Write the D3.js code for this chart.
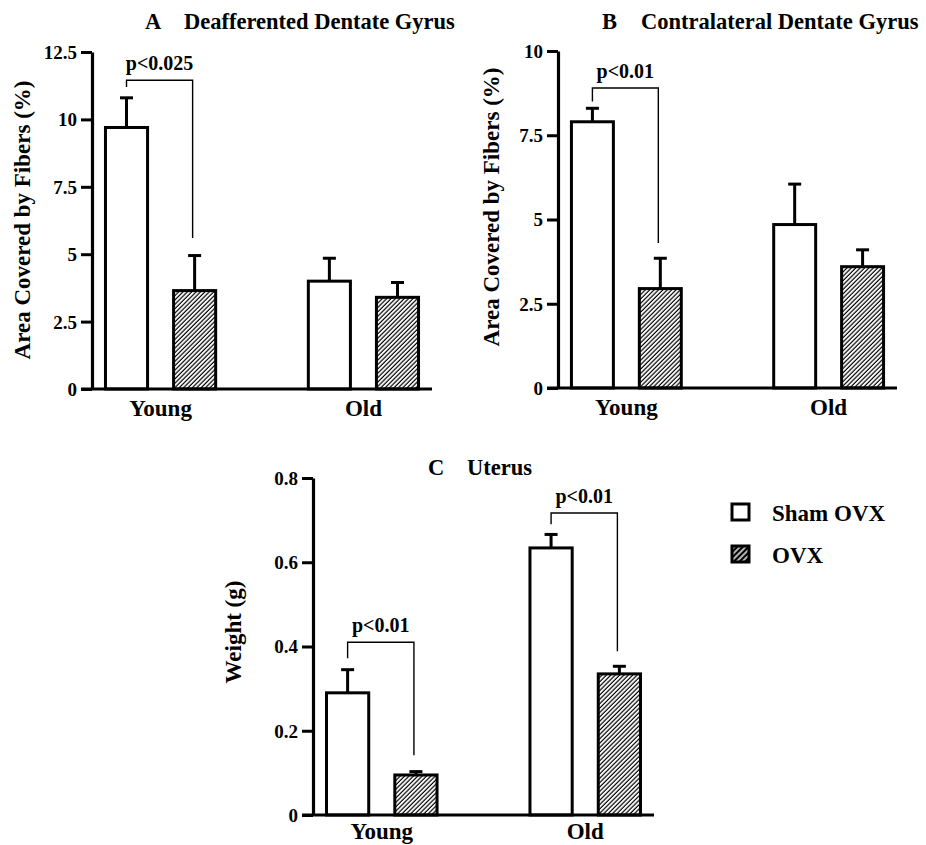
<!DOCTYPE html>
<html>
<head>
<meta charset="utf-8">
<script src="https://cdn.jsdelivr.net/npm/d3@7"></script>
<style>
  body { margin: 0; background: #fff; }
  text { font-family: "Liberation Serif", "Times New Roman", serif; font-weight: bold; fill: #000; }
</style>
</head>
<body>
<script>
// categories
var groups = ["Young", "Old"];
var series = ["Sham OVX", "OVX"];

// A: deafferented dentate gyrus (% area), [Young, Old] per series
var aSham = [9.7, 4.0];
var aOvx = [3.65, 3.4];
var aShamErr = [1.1, 0.85];
var aOvxErr = [1.3, 0.55];
var aTicks = [0, 2.5, 5, 7.5, 10, 12.5];

// B: contralateral dentate gyrus (% area)
var bSham = [7.9, 4.85];
var bOvx = [2.95, 3.6];
var bShamErr = [0.4, 1.2];
var bOvxErr = [0.9, 0.5];
var bTicks = [0, 2.5, 5, 7.5, 10];

// C: uterus weight (g)
var cSham = [0.29, 0.634];
var cOvx = [0.095, 0.335];
var cShamErr = [0.055, 0.032];
var cOvxErr = [0.008, 0.018];
var cTicks = [0, 0.2, 0.4, 0.6, 0.8];

// significance brackets: group, bracket top, left leg end, right leg end (data units)
var aBrackets = [{ group: "Young", top: 11.45, left: 11.2, right: 5.6, label: "p<0.025" }];
var bBrackets = [{ group: "Young", top: 8.9, left: 8.5, right: 4.3, label: "p<0.01" }];
var cBrackets = [
  { group: "Young", top: 0.41, left: 0.372, right: 0.142, label: "p<0.01" },
  { group: "Old", top: 0.717, left: 0.69, right: 0.389, label: "p<0.01" }
];

var w = 926;
var h = 845;

var svg = d3.select("body")
  .append("svg")
  .attr("width", w)
  .attr("height", h);

// hatch fill for OVX bars
var defs = svg.append("defs");
defs.append("pattern")
  .attr("id", "hatch")
  .attr("patternUnits", "userSpaceOnUse")
  .attr("width", 3.1)
  .attr("height", 3.1)
  .attr("patternTransform", "rotate(45)")
  .append("line")
  .attr("x1", 1).attr("y1", 0)
  .attr("x2", 1).attr("y2", 3.1)
  .attr("stroke", "#000")
  .attr("stroke-width", 1.2);
defs.append("pattern")
  .attr("id", "hatchDense")
  .attr("patternUnits", "userSpaceOnUse")
  .attr("width", 4)
  .attr("height", 4)
  .attr("patternTransform", "rotate(45)")
  .append("line")
  .attr("x1", 2).attr("y1", 0)
  .attr("x2", 2).attr("y2", 4)
  .attr("stroke", "#000")
  .attr("stroke-width", 2.6);

function drawPanel(p) {
  var g = svg.append("g");

  var y = d3.scaleLinear()
    .domain([0, d3.max(p.ticks)])
    .range([p.bottom, p.top]);

  var x = d3.scaleBand()
    .domain(groups)
    .range([p.left, p.right])
    .paddingInner(0.442)
    .paddingOuter(0.059);

  var xs = d3.scaleBand()
    .domain(series)
    .range([0, x.bandwidth()])
    .paddingInner(0.338);

  var rows = [];
  groups.forEach(function(grp, i) {
    rows.push({ group: grp, s: series[0], v: p.sham[i], e: p.shamErr[i] });
    rows.push({ group: grp, s: series[1], v: p.ovx[i], e: p.ovxErr[i] });
  });

  // error bars (upper only)
  rows.forEach(function(d) {
    var cx = x(d.group) + xs(d.s) + xs.bandwidth() / 2;
    g.append("line")
      .attr("x1", cx).attr("x2", cx)
      .attr("y1", y(d.v)).attr("y2", y(d.v + d.e))
      .attr("stroke", "#000").attr("stroke-width", 3);
    g.append("line")
      .attr("x1", cx - 6.5).attr("x2", cx + 6.5)
      .attr("y1", y(d.v + d.e)).attr("y2", y(d.v + d.e))
      .attr("stroke", "#000").attr("stroke-width", 3);
  });

  // bars
  g.selectAll("rect.bar")
    .data(rows)
    .enter()
    .append("rect")
    .attr("class", "bar")
    .attr("x", d => x(d.group) + xs(d.s) + 1.5)
    .attr("width", xs.bandwidth() - 3)
    .attr("y", d => y(d.v))
    .attr("height", d => y(0) - y(d.v))
    .attr("fill", d => d.s === "OVX" ? "url(#hatch)" : "#fff")
    .attr("stroke", "#000")
    .attr("stroke-width", 3);

  // brackets
  p.brackets.forEach(function(b) {
    var x1 = x(b.group) + xs(series[0]) + xs.bandwidth() / 2;
    var x2 = x(b.group) + xs(series[1]) + xs.bandwidth() / 2 - 2;
    g.append("path")
      .attr("d", "M" + x1 + "," + y(b.left) + "V" + y(b.top) + "H" + x2 + "V" + y(b.right))
      .attr("fill", "none")
      .attr("stroke", "#000")
      .attr("stroke-width", 1.4);
    g.append("text")
      .attr("x", (x1 + x2) / 2)
      .attr("y", y(b.top) - 10)
      .attr("text-anchor", "middle")
      .style("font-size", "20px")
      .text(b.label);
  });

  // y axis
  var yAxis = g.append("g")
    .attr("transform", "translate(" + p.left + ",0)")
    .call(d3.axisLeft(y)
      .tickValues(p.ticks)
      .tickSize(11)
      .tickPadding(4)
      .tickSizeOuter(0)
      .tickFormat(d => String(d)));
  yAxis.select(".domain").attr("stroke-width", 3.2);
  yAxis.selectAll(".tick line").attr("stroke-width", 3);
  yAxis.selectAll(".tick text")
    .style("font-size", "19px")
    .style("font-family", "'Liberation Serif', serif")
    .style("font-weight", "bold")
    .attr("dy", "0.34em");

  // x axis line
  g.append("line")
    .attr("x1", p.left - 11).attr("x2", p.right)
    .attr("y1", y(0)).attr("y2", y(0))
    .attr("stroke", "#000").attr("stroke-width", 3.2);

  // category labels
  g.selectAll("text.cat")
    .data(groups)
    .enter()
    .append("text")
    .attr("class", "cat")
    .attr("x", d => x(d) + x.bandwidth() / 2)
    .attr("y", y(0) + p.catGap)
    .attr("text-anchor", "middle")
    .style("font-size", "23px")
    .text(d => d);

  // y label
  g.append("text")
    .attr("transform", "translate(" + p.labelX + "," + p.labelY + ") rotate(-90)")
    .attr("text-anchor", "middle")
    .style("font-size", "23px")
    .text(p.yLabel);

  // title
  var t = g.append("text")
    .attr("y", p.titleY)
    .style("font-size", "22.5px");
  t.append("tspan").attr("x", p.titleX).text(p.letter);
  t.append("tspan").attr("x", p.titleX + 39).text(p.title);
}

drawPanel({
  sham: aSham, ovx: aOvx, shamErr: aShamErr, ovxErr: aOvxErr,
  ticks: aTicks, brackets: aBrackets,
  left: 92, right: 432, top: 52, bottom: 389, catGap: 27,
  yLabel: "Area Covered by Fibers (%)", labelX: 30, labelY: 220,
  letter: "A", title: "Deafferented Dentate Gyrus", titleX: 145, titleY: 29
});

drawPanel({
  sham: bSham, ovx: bOvx, shamErr: bShamErr, ovxErr: bOvxErr,
  ticks: bTicks, brackets: bBrackets,
  left: 558, right: 897, top: 51, bottom: 388, catGap: 27,
  yLabel: "Area Covered by Fibers (%)", labelX: 499, labelY: 207,
  letter: "B", title: "Contralateral Dentate Gyrus", titleX: 602, titleY: 29
});

drawPanel({
  sham: cSham, ovx: cOvx, shamErr: cShamErr, ovxErr: cOvxErr,
  ticks: cTicks, brackets: cBrackets,
  left: 313, right: 654, top: 478, bottom: 815, catGap: 24,
  yLabel: "Weight (g)", labelX: 241, labelY: 632,
  letter: "C", title: "Uterus", titleX: 428, titleY: 475
});

// legend
var legend = svg.append("g").attr("transform", "translate(732,504)");
legend.selectAll("rect")
  .data(series)
  .enter()
  .append("rect")
  .attr("x", 0)
  .attr("y", (d, i) => i * 42)
  .attr("width", 17)
  .attr("height", 16)
  .attr("fill", (d, i) => i === 1 ? "url(#hatchDense)" : "#fff")
  .attr("stroke", "#000")
  .attr("stroke-width", 3);
legend.selectAll("text")
  .data(series)
  .enter()
  .append("text")
  .attr("x", 40)
  .attr("y", (d, i) => 17 + i * 42)
  .style("font-size", "23px")
  .text(d => d);
</script>
</body>
</html>
